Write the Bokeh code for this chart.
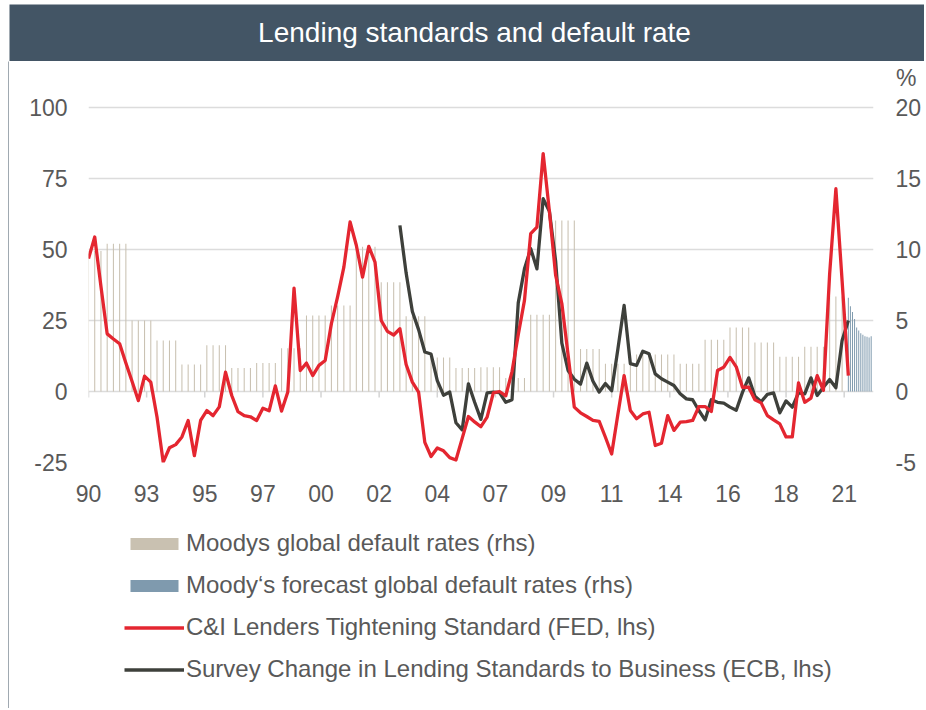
import numpy as np
import pandas as pd
from bokeh.plotting import figure
from bokeh.models import (Range1d, LinearAxis, FixedTicker, CustomJSTickFormatter,
                          PrintfTickFormatter, Legend, LegendItem)
from bokeh.layouts import column, row
from bokeh.embed import file_html
from bokeh.resources import INLINE
from bokeh.core.properties import value

FONT = "Liberation Sans"
DARK = "#435565"
TXT = "#595959"
BEIGE = "#c9c1b1"
BLUE = "#7f9aae"
RED = "#e42630"
GREY = "#3e403b"

# ---------------- data ----------------
# C&I Lenders Tightening Standard (FED), quarterly from 1990Q2
fed = [46.8, 54.4, 37.0, 20.3, 18.5, 16.8, 10.0, 3.5, -3.2, 5.4, 3.3,
       -9.0, -24.9, -19.8, -18.7, -16.0, -10.2, -22.6, -10.2, -6.7, -8.5, -5.4,
       6.8, -1.4, -7.1, -8.5, -8.9, -10.2, -5.9, -6.8, 2.0, -6.9, -0.2,
       36.4, 7.4, 10.0, 5.6, 9.2, 10.9, 23.9, 33.4, 43.8, 59.7, 51.5,
       40.3, 51.1, 45.6, 25.0, 21.2, 19.9, 22.1, 9.5, 3.3, -0.2, -17.9,
       -22.9, -19.9, -20.9, -23.3, -24.1, -16.5, -8.8, -10.7, -12.4, -9.0, -0.5,
       0.0, -1.5, 7.0, 20.0, 32.1, 55.6, 57.9, 83.8, 63.5, 41.0, 31.0,
       13.0, -5.5, -7.5, -8.8, -10.2, -10.5, -16.1, -22.0, -8.0, 5.6, -6.7,
       -9.6, -7.9, -7.3, -19.0, -18.2, -8.5, -13.7, -10.8, -10.6, -10.2, -5.3,
       -5.3, -7.0, 7.4, 8.6, 12.0, 8.7, 1.5, 1.5, -2.9, -4.0, -8.5,
       -10.0, -11.4, -16.0, -16.0, 3.0, -3.8, -2.3, 5.6, 0.4, 41.5, 71.4,
       39.0, 5.6]
fed_start = "1990Q2"

# Survey Change in Lending Standards to Business (ECB), quarterly from 2002Q4
ecb = [58.5, 41.7, 28.2, 21.8, 13.9, 13.2, 3.8, -1.3, -0.2, -11.0, -13.5,
       2.7, -3.8, -9.8, -0.5, -0.2, -0.4, -3.8, -2.9, 31.2, 43.2, 50.3,
       43.2, 67.9, 63.5, 46.0, 17.0, 7.4, 4.3, 2.6, 10.0, 3.6, -0.2,
       2.8, 0.3, 15.0, 30.3, 9.8, 9.2, 14.2, 13.3, 6.2, 4.5, 3.3,
       2.1, -0.8, -2.6, -2.9, -6.7, -10.0, -2.9, -3.8, -4.1, -5.5, -6.6,
       -0.3, 4.8, -1.7, -3.6, -1.0, -0.5, -7.5, -3.3, -5.5, -0.5, -0.8,
       4.8, -1.4, 1.5, 4.2, 1.3, 18.0, 25.0]
ecb_start = "2002Q4"

# Moodys global default rates (%), quarterly from 1990Q2
moodys = [9.9, 9.9, 9.9,
          10.4, 10.4, 10.4, 10.4,
          5.0, 5.0, 5.0, 5.0,
          3.6, 3.6, 3.6, 3.6,
          1.9, 1.9, 1.9, 1.9,
          3.25, 3.25, 3.25, 3.25,
          1.65, 1.65, 1.65, 1.65,
          2.0, 2.0, 2.0, 2.0,
          3.05, 3.05, 3.05, 3.05,
          5.35, 5.35, 5.35, 5.35,
          6.05, 6.05, 6.05, 6.05,
          10.2, 10.2, 10.2, 10.2,
          7.7, 7.7, 7.7, 7.7,
          5.3, 5.3, 5.3, 5.3,
          2.4, 2.4, 2.4, 2.4,
          1.65, 1.65, 1.65, 1.65,
          1.7, 1.7, 1.7, 1.7,
          0.95, 0.95, 0.95, 0.95,
          5.4, 5.4, 5.4, 5.4,
          12.05, 12.05, 12.05, 12.05,
          3.0, 3.0, 3.0, 3.0,
          1.95, 1.95, 1.95, 1.95,
          2.6, 2.6, 2.6, 2.6,
          2.6, 2.6, 2.6, 2.6,
          1.95, 1.95, 1.95, 1.95,
          3.65, 3.65, 3.65, 3.65,
          4.5, 4.5, 4.5, 4.5,
          3.45, 3.45, 3.45, 3.45,
          2.45, 2.45, 2.45, 2.45,
          3.15, 3.15, 3.15, 3.15,
          6.7, 6.7, 6.7]
moodys_start = "1990Q2"

# Moody's forecast global default rates (%), monthly from 2020-10
forecast = [6.6, 6.0, 5.6, 5.1, 4.5, 4.3, 4.1, 4.0, 3.9, 3.85, 3.8, 3.9]
forecast_start = "2020-10"

lhs_ticks = [-25, 0, 25, 50, 75, 100]
rhs_ticks = [-5, 0, 5, 10, 15, 20]
rhs_per_lhs = 0.2          # right axis = left axis / 5
x_labels = ["90", "93", "95", "97", "00", "02", "04", "07", "09", "11", "14", "16", "18", "21"]
x_label_months = 28   # spacing of the date-axis labels, in months
x_start, x_end = 1990.25, 2021.76
y_low, y_high = -25, 105.3   # headroom above 100 keeps room for the "%" unit

legend_labels = ["Moodys global default rates (rhs)",
                 "Moody\u2018s forecast global default rates (rhs)",
                 "C&I Lenders Tightening Standard (FED, lhs)",
                 "Survey Change in Lending Standards to Business (ECB, lhs)"]
title_text = "Lending standards and default rate"


def quarters(start, n):
    per = pd.period_range(start, periods=n, freq="Q")
    return np.asarray(per.year + (per.quarter - 1) / 4.0, dtype=float)


def months(start, n):
    per = pd.period_range(start, periods=n, freq="M")
    return np.asarray(per.year + (per.month - 1) / 12.0, dtype=float)


fed_x = quarters(fed_start, len(fed))
ecb_x = quarters(ecb_start, len(ecb))
mood_x = quarters(moodys_start, len(moodys))
fc_x = months(forecast_start, len(forecast))
x_ticks = [x_start + k * x_label_months / 12.0 for k in range(len(x_labels))]

W_TOTAL = 924
H_TITLE = 61
H_MAIN = 456
H_LEG = 191


def bare(fig):
    fig.grid.visible = False
    return fig


# ---------------- title bar (x, y in pixels of the page) ----------------
t = figure(width=W_TOTAL, height=H_TITLE, x_range=Range1d(9, W_TOTAL), y_range=Range1d(H_TITLE, 4),
           output_backend="svg", toolbar_location=None,
           min_border_left=9, min_border_right=0, min_border_top=4, min_border_bottom=0,
           x_axis_location=None, y_axis_location=None,
           background_fill_color=DARK, border_fill_color="white", outline_line_color=None)
bare(t)
t.text(x=[474], y=[32], text=[title_text],
       text_align="center", text_baseline="alphabetic", text_color="white",
       text_font=value(FONT), text_font_size="28px")

# left frame line of the panel
b = figure(width=9, height=H_MAIN + H_LEG, output_backend="svg", toolbar_location=None,
           min_border_left=8, min_border_right=0, min_border_top=0, min_border_bottom=0,
           x_axis_location=None, y_axis_location=None,
           background_fill_color=DARK, border_fill_color="white", outline_line_color=None)
bare(b)

# ---------------- main chart ----------------
p = figure(width=W_TOTAL - 9, height=H_MAIN, x_range=Range1d(x_start, x_end),
           y_range=Range1d(y_low, y_high),
           output_backend="svg", toolbar_location=None,
           min_border_left=79, min_border_right=51, min_border_top=31, min_border_bottom=55,
           outline_line_color=None, background_fill_color="white", border_fill_color="white")
p.extra_y_ranges = {"rhs": Range1d(y_low * rhs_per_lhs, y_high * rhs_per_lhs)}

p.title.text = "%"
p.title.align = "right"
p.title.vertical_align = "middle"
p.title.offset = -43
p.title.standoff = 2
p.title.text_font = FONT
p.title.text_font_size = "23px"
p.title.text_font_style = "normal"
p.title.text_color = TXT

p.xgrid.visible = False
p.ygrid.ticker = FixedTicker(ticks=lhs_ticks)
p.ygrid.grid_line_color = "#dcdcdc"
p.ygrid.grid_line_width = 1.6


def style_axis(ax, standoff):
    ax.axis_line_color = None
    ax.major_tick_line_color = None
    ax.minor_tick_line_color = None
    ax.major_tick_out = 0
    ax.major_tick_in = 0
    ax.minor_tick_out = 0
    ax.minor_tick_in = 0
    ax.major_label_standoff = standoff
    ax.major_label_text_font = FONT
    ax.major_label_text_font_size = "23px"
    ax.major_label_text_color = TXT


xa = p.xaxis[0]
xa.ticker = FixedTicker(ticks=x_ticks)
xa.formatter = CustomJSTickFormatter(args=dict(labels=x_labels), code="return labels[index];")
style_axis(xa, 22)

ya = p.yaxis[0]
ya.ticker = FixedTicker(ticks=lhs_ticks)
ya.formatter = PrintfTickFormatter(format="%d")
style_axis(ya, 21)

ra = LinearAxis(y_range_name="rhs", ticker=FixedTicker(ticks=rhs_ticks),
                formatter=PrintfTickFormatter(format="%d"))
style_axis(ra, 22)
p.add_layout(ra, "right")

# bars
p.vbar(x=mood_x, top=moodys, bottom=0, width=0.042, y_range_name="rhs",
       fill_color=BEIGE, line_color=None)
p.vbar(x=fc_x, top=forecast, bottom=0, width=0.04, y_range_name="rhs",
       fill_color=BLUE, line_color=None)

# small tick marks hanging from the zero line at the label positions
p.ray(x=x_ticks, y=0, length=6, length_units="screen", angle=-np.pi / 2,
      line_color="#d4d4d4", line_width=1.5)

# lines
p.line(ecb_x, ecb, line_color=GREY, line_width=3.3, line_join="round")
p.line(fed_x, fed, line_color=RED, line_width=3.3, line_join="round")

# ---------------- legend panel ----------------
# the same series serve as legend keys; this panel's y range lies above all values,
# so the series themselves stay out of view here
lf = figure(width=W_TOTAL - 9, height=H_LEG, x_range=Range1d(x_start, x_end), y_range=Range1d(200, 300),
            output_backend="svg", toolbar_location=None, min_border=0,
            x_axis_location=None, y_axis_location=None,
            outline_line_color=None, background_fill_color="white", border_fill_color="white")
bare(lf)
g1 = lf.vbar(x=mood_x, top=moodys, width=0.042, fill_color=BEIGE, line_color=None)
g2 = lf.vbar(x=fc_x, top=forecast, width=0.04, fill_color=BLUE, line_color=None)
g3 = lf.line(fed_x, fed, line_color=RED, line_width=3.3)
g4 = lf.line(ecb_x, ecb, line_color=GREY, line_width=3.3)
legend = Legend(items=[LegendItem(label=lab, renderers=[g]) for lab, g in
                       zip(legend_labels, [g1, g2, g3, g4])],
                location=(36, 25), orientation="vertical", glyph_width=60, glyph_height=15,
                label_standoff=2, label_height=28, label_text_font=FONT, label_text_font_size="24px",
                label_text_color=TXT, spacing=14, padding=0, margin=0,
                border_line_color=None, background_fill_alpha=0)
lf.add_layout(legend)

layout = column(t, row(b, column(p, lf, spacing=0), spacing=0), spacing=0)
open("out.html", "w").write(file_html(layout, INLINE))
